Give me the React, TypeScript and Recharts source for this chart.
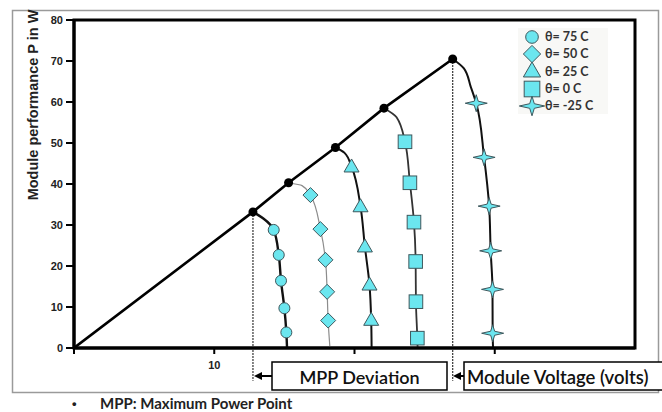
import React from 'react';
import { LineChart, Line, XAxis, YAxis, ReferenceLine, ReferenceArea, Legend } from 'recharts';

// maximum power point of each temperature curve (volts, watts)
const temps = ['75', '50', '25', '0', '-25'];
const mppV = [12.76, 15.3, 18.64, 22.1, 27.0];
const mppP = [33.2, 40.3, 48.9, 58.5, 70.5];

// points of each curve below its MPP, mark = 1 where a symbol is drawn
const v75 = [13.5, 14.24, 14.6, 14.76, 15.0, 15.14, 15.19];
const p75 = [31.6, 28.8, 22.7, 16.4, 9.7, 3.8, 0];
const m75 = [0, 1, 1, 1, 1, 1, 0];

const v50 = [16.26, 16.86, 17.57, 17.93, 18.05, 18.12, 18.25];
const p50 = [39.6, 37.3, 29.0, 21.5, 13.7, 6.7, 0];
const m50 = [0, 1, 1, 1, 1, 1, 0];

const v25 = [19.29, 19.79, 20.43, 20.74, 21.07, 21.19, 21.22];
const p25 = [47.6, 44.2, 34.5, 24.7, 15.4, 6.8, 0];
const m25 = [0, 1, 1, 1, 1, 1, 0];

const v0 = [23.0, 23.6, 23.95, 24.24, 24.36, 24.38, 24.48, 24.5];
const p0 = [56.3, 50.3, 40.3, 30.7, 21.1, 11.3, 2.4, 0];
const m0 = [0, 1, 1, 1, 1, 1, 1, 0];

const vm25 = [27.8, 28.29, 28.68, 29.24, 29.6, 29.71, 29.84, 29.85, 29.88];
const pm25 = [68.2, 63.7, 59.7, 46.5, 34.6, 23.7, 14.3, 3.6, 0];
const mm25 = [0, 0, 1, 1, 1, 1, 1, 1, 0];

const xTicks = [0, 10, 20, 30];
const yTicks = [0, 10, 20, 30, 40, 50, 60, 70, 80];

const CYAN = '#6be6ef';
const EDGE = '#3e585d';

type Kind = 'circle' | 'diamond' | 'triangle' | 'square' | 'star';

const build = (i: number, v: number[], p: number[], m: number[]) => [
  { v: mppV[i], p: mppP[i], mark: 0 },
  ...v.map((x, k) => ({ v: x, p: p[k], mark: m[k] })),
];

const series: { name: string; kind: Kind; data: any[]; stroke: string; width: number }[] = [
  { name: temps[0], kind: 'circle', data: build(0, v75, p75, m75), stroke: '#111', width: 2.4 },
  { name: temps[1], kind: 'diamond', data: build(1, v50, p50, m50), stroke: '#8c8c8c', width: 1.2 },
  { name: temps[2], kind: 'triangle', data: build(2, v25, p25, m25), stroke: '#111', width: 2 },
  { name: temps[3], kind: 'square', data: build(3, v0, p0, m0), stroke: '#333', width: 1.8 },
  { name: temps[4], kind: 'star', data: build(4, vm25, pm25, mm25), stroke: '#111', width: 2 },
];

const mppLine = [{ v: 0, p: 0, mark: 0 }, ...mppV.map((v, i) => ({ v, p: mppP[i], mark: 1 }))];

function Marker({ kind, x, y, s = 1 }: { kind: Kind; x: number; y: number; s?: number }) {
  const st = { fill: CYAN, stroke: EDGE, strokeWidth: 1 };
  if (kind === 'circle') return <circle cx={x} cy={y} r={5.5 * s} {...st} />;
  if (kind === 'diamond') {
    const d = 7.5 * s;
    return <polygon points={`${x},${y - d} ${x + d},${y} ${x},${y + d} ${x - d},${y}`} {...st} />;
  }
  if (kind === 'triangle') {
    const w = 7.5 * s;
    const h = 13 * s;
    return <polygon points={`${x},${y - h * 0.6} ${x + w},${y + h * 0.4} ${x - w},${y + h * 0.4}`} {...st} />;
  }
  if (kind === 'square') {
    const a = 6.8 * s;
    return <rect x={x - a} y={y - a} width={2 * a} height={2 * a} {...st} />;
  }
  const a = 11 * s;
  const b = 8.5 * s;
  const w = 2 * s;
  return (
    <polygon
      points={`${x - a},${y} ${x - w},${y - w} ${x},${y - b} ${x + w},${y - w} ${x + a},${y} ${x + w},${y + w} ${x},${y + b} ${x - w},${y + w}`}
      {...st}
    />
  );
}

const YLabel = (props: any) => {
  const vb = props.viewBox || { x: 0, y: 20 };
  const x = vb.x + 33;
  const y = vb.y + 85;
  return (
    <text
      x={x}
      y={y}
      transform={`rotate(-90 ${x} ${y})`}
      textAnchor="middle"
      dominantBaseline="central"
      fontSize={14.5}
      fontWeight={700}
      fill="#222"
      fontFamily="Liberation Sans, Arial, sans-serif"
    >
      Module performance P in W
    </text>
  );
};

const LegendBox = () => (
  <div style={{ background: '#f8f8f6', fontFamily: 'Lato, Liberation Sans, sans-serif' }}>
    {series.map((s) => (
      <div key={s.name} style={{ display: 'flex', alignItems: 'center', height: 17.3 }}>
        <svg width={27} height={20} style={{ overflow: 'visible' }}>
          <Marker kind={s.kind} x={14} y={10} s={1.15} />
        </svg>
        <span style={{ fontSize: 12.5, fontWeight: 700, color: '#333', whiteSpace: 'nowrap' }}>
          θ= {s.name} C
        </span>
      </div>
    ))}
  </div>
);

export default function App() {
  return (
    <div
      style={{
        position: 'absolute',
        left: 0,
        top: 0,
        width: 662,
        height: 412,
        background: '#fff',
        overflow: 'hidden',
        fontFamily: 'Liberation Sans, Arial, sans-serif',
      }}
    >
      <svg width={662} height={412} style={{ position: 'absolute', left: 0, top: 0 }}>
        <rect x={12.5} y={10.5} width={646} height={382} fill="none" stroke="#9a9a9a" strokeWidth={1.5} />
      </svg>
      <div style={{ position: 'absolute', left: 0, top: 0 }}>
        <LineChart width={662} height={412} margin={{ top: 20, right: 27, bottom: 34, left: 0 }}>
          <XAxis
            type="number"
            dataKey="v"
            domain={[0, 40]}
            ticks={xTicks}
            allowDataOverflow
            height={30}
            tickSize={6}
            tickMargin={7}
            tickFormatter={(t) => (t === 10 ? '10' : '')}
            axisLine={{ stroke: '#000', strokeWidth: 3 }}
            tickLine={{ stroke: '#000', strokeWidth: 2 }}
            tick={{ fontSize: 11, fontWeight: 700, fill: '#222' }}
          />
          <YAxis
            type="number"
            dataKey="p"
            domain={[0, 80]}
            ticks={yTicks}
            width={74}
            tickSize={8}
            tickMargin={3}
            axisLine={{ stroke: '#000', strokeWidth: 3 }}
            tickLine={{ stroke: '#000', strokeWidth: 2 }}
            tick={{ fontSize: 11, fontWeight: 700, fill: '#222' }}
            label={<YLabel />}
          />
          <ReferenceArea x1={0} x2={40} y1={0} y2={80} fill="none" fillOpacity={0} stroke="#000" strokeWidth={3} />
          <ReferenceLine
            segment={[{ x: mppV[0], y: mppP[0] }, { x: mppV[0], y: -8 }]}
            ifOverflow="visible"
            stroke="#444"
            strokeWidth={1.3}
            strokeDasharray="2 1"
          />
          <ReferenceLine
            segment={[{ x: mppV[4], y: mppP[4] }, { x: mppV[4], y: -8 }]}
            ifOverflow="visible"
            stroke="#444"
            strokeWidth={1.3}
            strokeDasharray="2 1"
          />
          {series.map((s) => (
            <Line
              key={s.name}
              data={s.data}
              dataKey="p"
              type="monotoneY"
              stroke={s.stroke}
              strokeWidth={s.width}
              isAnimationActive={false}
              activeDot={false}
              legendType="none"
              dot={(d: any) =>
                d.payload && d.payload.mark ? (
                  <Marker key={`${s.name}-${d.index}`} kind={s.kind} x={d.cx} y={d.cy} />
                ) : (
                  <g key={`${s.name}-${d.index}`} />
                )
              }
            />
          ))}
          <Line
            data={mppLine}
            dataKey="p"
            type="linear"
            stroke="#000"
            strokeWidth={2.6}
            isAnimationActive={false}
            activeDot={false}
            legendType="none"
            dot={(d: any) =>
              d.payload && d.payload.mark ? (
                <circle key={`mpp-${d.index}`} cx={d.cx} cy={d.cy} r={4.5} fill="#000" />
              ) : (
                <g key={`mpp-${d.index}`} />
              )
            }
          />
          <Legend
            layout="vertical"
            align="center"
            verticalAlign="middle"
            content={() => <LegendBox />}
            wrapperStyle={{ position: 'absolute', left: 518, top: 28, width: 90, height: 88 }}
          />
        </LineChart>
      </div>
      <svg width={662} height={412} style={{ position: 'absolute', left: 0, top: 0, pointerEvents: 'none' }}>
        <line x1={261} y1={376} x2={272} y2={376} stroke="#000" strokeWidth={2} />
        <polygon points="254,376 262,372 262,380" fill="#000" />
        <rect x={272} y={362} width={175} height={28} fill="#fff" stroke="#000" strokeWidth={1.5} />
        <text x={359.5} y={377} textAnchor="middle" dominantBaseline="central" fontSize={18} fill="#111" fontFamily="Lato, Liberation Sans, sans-serif" fontWeight={600}>
          MPP Deviation
        </text>
        <line x1={460} y1={376} x2={464} y2={376} stroke="#000" strokeWidth={2} />
        <polygon points="453,376 461,372 461,380" fill="#000" />
        <rect x={464} y={362} width={210} height={28} fill="#fff" stroke="#000" strokeWidth={1.5} />
        <text x={467} y={377} dominantBaseline="central" fontSize={18.5} fill="#111" fontFamily="Lato, Liberation Sans, sans-serif" fontWeight={600}>
          Module Voltage (volts)
        </text>
        <text x={72} y={403} dominantBaseline="central" fontSize={13} fill="#222" fontWeight={700}>
          •
        </text>
        <text x={100} y={403} dominantBaseline="central" fontSize={15} fill="#222" fontFamily="Lato, Liberation Sans, sans-serif" fontWeight={700}>
          MPP: Maximum Power Point
        </text>
      </svg>
    </div>
  );
}
